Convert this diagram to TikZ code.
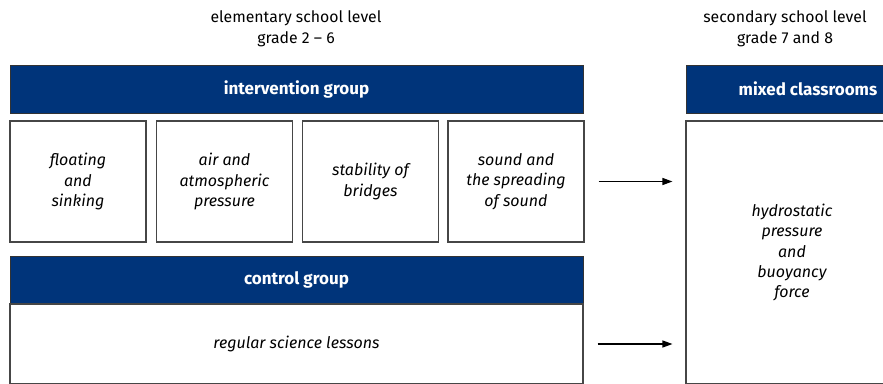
\documentclass[tikz,border=0pt]{standalone}
\usepackage{fontspec}
\setmainfont{Fira Sans}
\usetikzlibrary{arrows.meta,positioning}

\definecolor{groupblue}{RGB}{0,52,122}
\definecolor{boxgray}{RGB}{70,70,70}

\tikzset{
  groupbar/.style={draw=black!80,line width=0.8pt,fill=groupblue,text=white,
    font=\fontsize{17}{20}\selectfont\bfseries,inner sep=0pt},
  topicbox/.style={draw=boxgray,line width=1.1pt,fill=white,align=center,
    font=\fontsize{16}{20.3}\selectfont\itshape,inner sep=0pt},
  flow/.style={-{Triangle[length=10pt,width=7pt]},line width=1.2pt,
    shorten <=14pt,shorten >=13pt}
}

\begin{document}
\begin{tikzpicture}[x=1pt,y=-1pt,every node/.style={font=\fontsize{15.8}{21}\selectfont}]
\useasboundingbox (0,0) rectangle (883,383);
\node[align=center] (elem) at (296,28.5) {elementary school level\\grade 2 -- 6};
\node[align=center] (sec) at (785,28.5) {secondary school level\\grade 7 and 8};

% elementary level
\node[groupbar,minimum width=573pt,minimum height=48pt] (interv) at (296.5,89) {intervention group};
\foreach \x/\name/\txt in {78/floating/{floating\\and\\sinking},
                           224.5/air/{air and\\atmospheric\\pressure},
                           370.5/bridges/{stability of\\bridges},
                           516/sound/{sound and\\the spreading\\of sound}}
  \node[topicbox,minimum width=136pt,minimum height=121pt] (\name) at (\x,181.5) {\txt};
\node[groupbar,minimum width=573pt,minimum height=48pt] (control) at (296.5,280) {control group};
\node[topicbox,minimum width=573pt,minimum height=80pt] (regular) at (296.5,344) {regular science lessons};

% secondary level
\node[groupbar,minimum width=244pt,minimum height=48pt] (mixed) at (808,89) {mixed classrooms};
\node[topicbox,minimum width=212pt,minimum height=263pt] (hydro) at (792,252.5)
  {hydrostatic\\pressure\\and\\buoyancy\\force};

\coordinate (hydroin) at (hydro.west |- regular.east);
\draw[flow] (sound.east) -- (sound.east -| hydro.west);
\draw[flow] (regular.east) -- (hydroin);
\end{tikzpicture}
\end{document}
